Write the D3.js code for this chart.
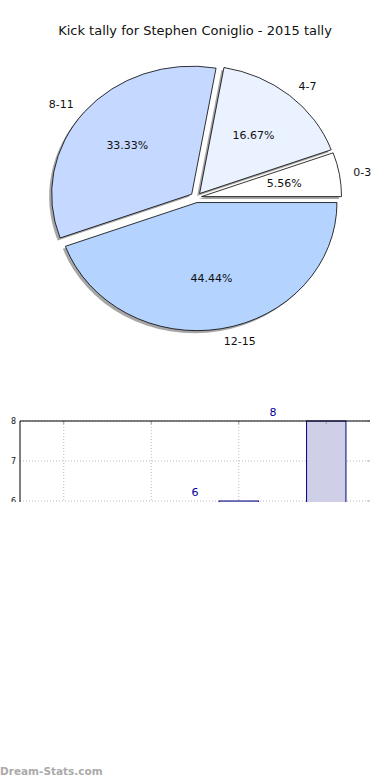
<!doctype html>
<html>
<head>
<meta charset="utf-8">
<title>Kick tally</title>
<script src="https://cdnjs.cloudflare.com/ajax/libs/d3/7.8.5/d3.min.js"></script>
<style>
  body { margin: 0; background: #fff; }
  text { font-family: "DejaVu Sans", sans-serif; }
</style>
</head>
<body>
<svg width="390" height="780"></svg>
<script>
// data
var categories = ["0-3", "4-7", "8-11", "12-15"];
var kicks = [1, 3, 6, 8];
var pctLabels = ["5.56%", "16.67%", "33.33%", "44.44%"];
var sliceColors = ["#ffffff", "#eaf1ff", "#c5d8ff", "#b4d4ff"];
var yTicks = [0, 1, 2, 3, 4, 5, 6, 7, 8];

(function() {
var svg = d3.select("svg");

svg.append("text")
    .attr("x", 195).attr("y", 35)
    .attr("text-anchor", "middle")
    .attr("font-size", 13)
    .attr("fill", "#111")
    .text("Kick tally for Stephen Coniglio - 2015 tally");

// ---- pie (matplotlib style: ccw from 3 o'clock, elliptical) ----
var cx = 196, cy = 197.5, rx = 140, ry = 128, explode = 0.04;

var pie = d3.pie().sort(null)
    .startAngle(Math.PI / 2)
    .endAngle(Math.PI / 2 - 2 * Math.PI);
var arcs = pie(kicks);
var arc = d3.arc().innerRadius(0).outerRadius(1);

function mid(d) { return (d.startAngle + d.endAngle) / 2; }
function offX(d, k) { return Math.sin(mid(d)) * k; }
function offY(d, k) { return -Math.cos(mid(d)) * k; }

var shadow = svg.append("g")
    .attr("transform", "translate(" + (cx - 2.5) + "," + (cy + 2.5) + ") scale(" + rx + "," + ry + ")");
shadow.selectAll("path")
    .data(arcs)
    .join("path")
    .attr("transform", function(d) { return "translate(" + offX(d, explode) + "," + offY(d, explode) + ")"; })
    .attr("d", arc)
    .attr("fill", "#888")
    .attr("opacity", 0.75);

var pieG = svg.append("g")
    .attr("transform", "translate(" + cx + "," + cy + ") scale(" + rx + "," + ry + ")");
pieG.selectAll("path")
    .data(arcs)
    .join("path")
    .attr("transform", function(d) { return "translate(" + offX(d, explode) + "," + offY(d, explode) + ")"; })
    .attr("d", arc)
    .attr("fill", function(d, i) { return sliceColors[i]; })
    .attr("stroke", "#000")
    .attr("stroke-width", 0.8)
    .attr("vector-effect", "non-scaling-stroke");

// slice labels at 1.1 radius, percentages at 0.6
svg.selectAll("text.lab")
    .data(arcs)
    .join("text")
    .attr("class", "lab")
    .attr("x", function(d) { return cx + (offX(d, explode) + offX(d, 1.1)) * rx; })
    .attr("y", function(d) { return cy + (offY(d, explode) + offY(d, 1.1)) * ry; })
    .attr("dy", "0.35em")
    .attr("text-anchor", function(d) { return Math.sin(mid(d)) > 0 ? "start" : "end"; })
    .attr("font-size", 11)
    .attr("fill", "#111")
    .text(function(d, i) { return categories[i]; });

svg.selectAll("text.pct")
    .data(arcs)
    .join("text")
    .attr("class", "pct")
    .attr("x", function(d) { return cx + (offX(d, explode) + offX(d, 0.6)) * rx; })
    .attr("y", function(d) { return cy + (offY(d, explode) + offY(d, 0.6)) * ry; })
    .attr("dy", "0.35em")
    .attr("text-anchor", "middle")
    .attr("font-size", 11)
    .attr("fill", "#111")
    .text(function(d, i) { return pctLabels[i]; });

// ---- bar chart (only top part visible) ----
var plotLeft = 20, plotRight = 370, plotTop = 421;
var x = d3.scaleBand().domain(categories).range([plotLeft, plotRight])
    .paddingInner(0.55).paddingOuter(0.275);
var y = d3.scaleLinear().domain([0, 8]).range([741, plotTop]);
var labelX = d3.scalePoint().domain(categories).range([39, 273]);

svg.append("defs").append("clipPath").attr("id", "barclip")
    .append("rect").attr("x", 0).attr("y", 395).attr("width", 390).attr("height", 107);

var bars = svg.append("g").attr("clip-path", "url(#barclip)");

// grid
bars.selectAll("line.hg")
    .data(yTicks)
    .join("line")
    .attr("class", "hg")
    .attr("x1", plotLeft).attr("x2", plotRight)
    .attr("y1", function(d) { return y(d); }).attr("y2", function(d) { return y(d); })
    .attr("stroke", "#bbb").attr("stroke-dasharray", "1,2");
bars.selectAll("line.vg")
    .data(categories)
    .join("line")
    .attr("class", "vg")
    .attr("x1", function(d) { return x(d) + x.bandwidth() / 2; })
    .attr("x2", function(d) { return x(d) + x.bandwidth() / 2; })
    .attr("y1", plotTop).attr("y2", y(0))
    .attr("stroke", "#bbb").attr("stroke-dasharray", "1,2");

bars.selectAll("rect.bar")
    .data(kicks)
    .join("rect")
    .attr("class", "bar")
    .attr("x", function(d, i) { return x(categories[i]); })
    .attr("width", x.bandwidth())
    .attr("y", function(d) { return y(d); })
    .attr("height", function(d) { return y(0) - y(d); })
    .attr("fill", "#cccce6")
    .attr("fill-opacity", 0.95)
    .attr("stroke", "#000080")
    .attr("stroke-width", 1);

// tick marks
bars.selectAll("line.xt")
    .data(categories)
    .join("line")
    .attr("class", "xt")
    .attr("x1", function(d) { return x(d) + x.bandwidth() / 2; })
    .attr("x2", function(d) { return x(d) + x.bandwidth() / 2; })
    .attr("y1", plotTop).attr("y2", plotTop + 3)
    .attr("stroke", "#999");
bars.selectAll("line.yt")
    .data(yTicks)
    .join("line")
    .attr("class", "yt")
    .attr("x1", plotRight - 3).attr("x2", plotRight)
    .attr("y1", function(d) { return y(d); }).attr("y2", function(d) { return y(d); })
    .attr("stroke", "#bbb");

// spines
bars.append("line").attr("x1", plotLeft).attr("x2", plotRight).attr("y1", plotTop).attr("y2", plotTop)
    .attr("stroke", "#000").attr("stroke-width", 1);
bars.append("line").attr("x1", plotLeft).attr("x2", plotLeft).attr("y1", plotTop).attr("y2", y(0))
    .attr("stroke", "#000").attr("stroke-width", 1);

// y tick labels
bars.selectAll("text.ytl")
    .data(yTicks)
    .join("text")
    .attr("class", "ytl")
    .attr("x", plotLeft - 4)
    .attr("y", function(d) { return y(d); })
    .attr("dy", "0.35em")
    .attr("text-anchor", "end")
    .attr("font-size", 8)
    .attr("fill", "#111")
    .text(function(d) { return d; });

// value labels
bars.selectAll("text.val")
    .data(kicks)
    .join("text")
    .attr("class", "val")
    .attr("x", function(d, i) { return labelX(categories[i]); })
    .attr("y", function(d) { return y(d) - 9; })
    .attr("dy", "0.35em")
    .attr("text-anchor", "middle")
    .attr("font-size", 11)
    .attr("fill", "#00009a")
    .text(function(d) { return d; });

svg.append("text")
    .attr("x", 0).attr("y", 775)
    .attr("font-size", 10.5)
    .attr("font-family", "Open Sans, sans-serif")
    .attr("font-weight", 600)
    .attr("fill", "#aaa")
    .text("Dream-Stats.com");
})();
</script>
</body>
</html>
